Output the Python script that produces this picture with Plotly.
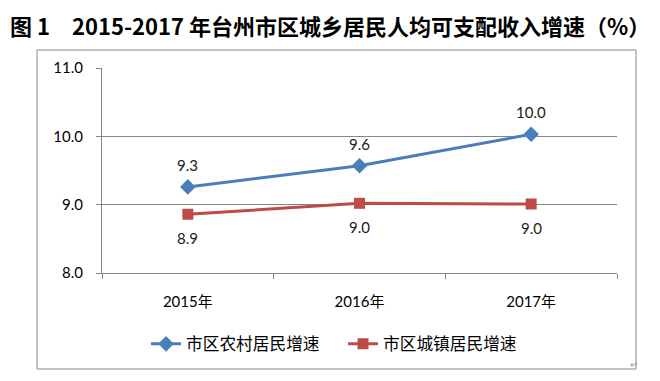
import plotly.graph_objects as go

years = ["2015年", "2016年", "2017年"]
rural = [9.26, 9.57, 10.03]
urban = [8.86, 9.02, 9.01]
rural_name = "市区农村居民增速"
urban_name = "市区城镇居民增速"
y_ticks = [8.0, 9.0, 10.0, 11.0]
title_text = "图 1　2015-2017 年台州市区城乡居民人均可支配收入增速（%）"

blue = "#4A7EBB"
red = "#BE4B48"
grid = "#868686"
font_lat = "Lato, 'Noto Sans CJK SC', sans-serif"

fig = go.Figure()
fig.add_trace(go.Scatter(
    x=years, y=rural, name=rural_name, mode="lines+markers",
    line=dict(color=blue, width=3),
    marker=dict(symbol="diamond", size=12, color=blue),
))
fig.add_trace(go.Scatter(
    x=years, y=urban, name=urban_name, mode="lines+markers",
    line=dict(color=red, width=3),
    marker=dict(symbol="square", size=11, color=red),
))

anns = []
for xv, yv in zip(years, rural):
    anns.append(dict(x=xv, y=yv, text=f"{yv:.1f}", showarrow=False,
                     yshift=22, font=dict(size=15, color="#1a1a1a", family=font_lat)))
for xv, yv in zip(years, urban):
    anns.append(dict(x=xv, y=yv, text=f"{yv:.1f}", showarrow=False,
                     yshift=-24, font=dict(size=15, color="#1a1a1a", family=font_lat)))
anns.append(dict(x=1.045, y=-0.49, xref="paper", yref="paper", text="↵",
                 showarrow=False, font=dict(size=10, color="#999999")))

fig.update_layout(
    width=660, height=381,
    margin=dict(l=102, r=43, t=68, b=108),
    paper_bgcolor="white", plot_bgcolor="white",
    title=dict(text=title_text, x=10/660, xanchor="left", y=1-27/381, yanchor="middle",
               font=dict(family="'Noto Sans CJK SC', sans-serif", size=22, color="black", weight="bold")),
    showlegend=True,
    legend=dict(orientation="h", x=0.468, xanchor="center", y=(273-344)/205, yanchor="middle",
                font=dict(family="'Noto Sans CJK SC', sans-serif", size=16.7, color="black"),
                itemwidth=30, traceorder="normal", bgcolor="rgba(0,0,0,0)",
                entrywidth=152, entrywidthmode="pixels"),
    annotations=anns,
    shapes=[dict(type="rect", xref="paper", yref="paper",
                 x0=(37-102)/515, x1=(636-102)/515, y0=(273-369)/205, y1=(273-50)/205,
                 line=dict(color=grid, width=1), layer="above")],
)
fig.update_xaxes(type="category", range=[-0.5, 2.5], showgrid=False,
                 showline=True, linecolor=grid, linewidth=1,
                 ticks="outside", tickson="boundaries", ticklen=5, tickcolor=grid,
                 ticklabelstandoff=15,
                 tickfont=dict(family=font_lat, size=15, color="black"))
fig.update_yaxes(range=[8, 11], tickvals=y_ticks, ticktext=[f"{v:.1f}" for v in y_ticks],
                 showgrid=True, gridcolor=grid, gridwidth=1, zeroline=False,
                 showline=True, linecolor=grid, linewidth=1,
                 ticks="outside", ticklen=5, tickcolor=grid,
                 ticklabelstandoff=10,
                 tickfont=dict(family=font_lat, size=15, color="black"))
fig.write_html("out.html", config={"displayModeBar": False},
               post_script="document.body.style.margin='0px';")
